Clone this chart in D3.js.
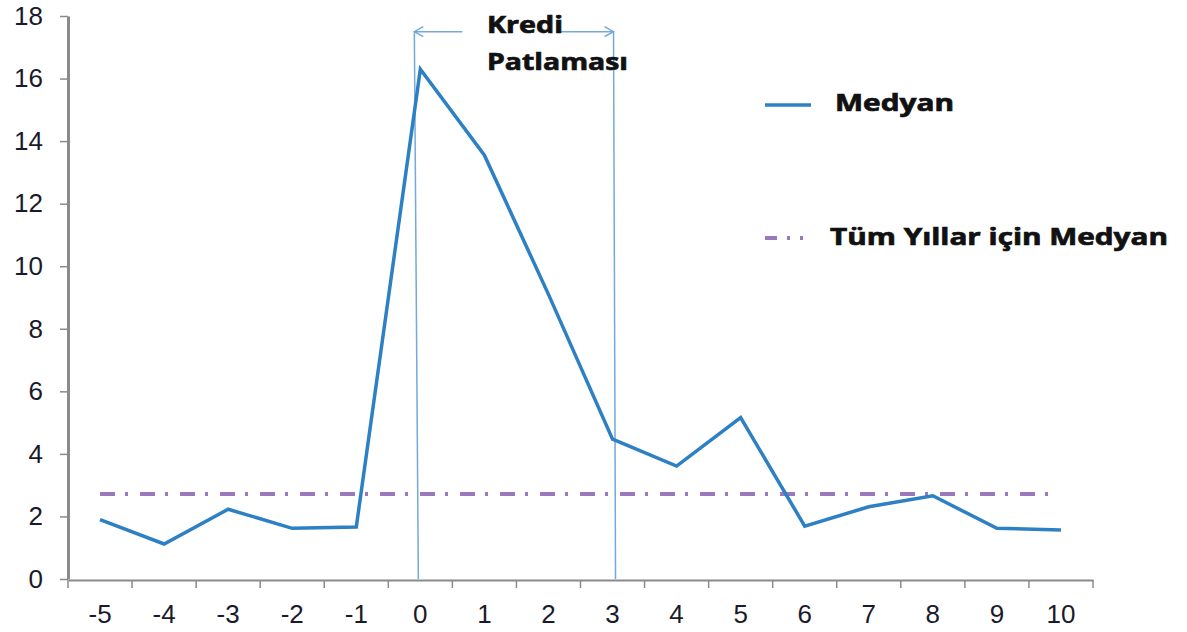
<!DOCTYPE html>
<html><head><meta charset="utf-8">
<script src="https://cdn.jsdelivr.net/npm/d3@7"></script>
<style>body{margin:0;background:#fff}svg{display:block}</style>
</head><body>
<svg id="c" width="1187" height="632"></svg>
<script>
const categories = [-5,-4,-3,-2,-1,0,1,2,3,4,5,6,7,8,9,10];
const medyan = [1.9,1.12,2.23,1.62,1.66,16.3,13.55,9.1,4.47,3.61,5.16,1.69,2.31,2.66,1.62,1.57];
const tumYillarMedyan = 2.72;
const yTicks = [0,2,4,6,8,10,12,14,16,18];
const boomStart = 0, boomEnd = 3;
const labels = {series:"Medyan", ref:"Tüm Yıllar için Medyan", boom:["Kredi","Patlaması"]};

const svg = d3.select("#c");
const x = d3.scaleBand().domain(categories).range([68,1093]).padding(0);
const cx = c => x(c) + x.bandwidth()/2;
const y = d3.scaleLinear().domain([0,18]).range([579,16]);

// axes
const yAx = svg.append("g").attr("transform","translate(68,0)")
  .call(d3.axisLeft(y).tickValues(yTicks).tickSize(8).tickPadding(17).tickSizeOuter(0));
yAx.select(".domain").attr("stroke","#8a8a8a").attr("stroke-width",3);
yAx.selectAll(".tick line").attr("stroke","#8a8a8a").attr("stroke-width",1.5);
yAx.selectAll(".tick text").attr("font-family","Liberation Sans, Arial, sans-serif")
  .attr("font-size",26).attr("fill","#1a1a2a");

const xAx = svg.append("g").attr("transform","translate(0,580)")
  .call(d3.axisBottom(x).tickSize(0).tickPadding(25).tickSizeOuter(0));
xAx.select(".domain").attr("stroke","#8a8a8a").attr("stroke-width",2);
xAx.selectAll(".tick text").attr("font-family","Liberation Sans, Arial, sans-serif")
  .attr("font-size",26).attr("fill","#1a1a2a");
// boundary ticks
const bounds = categories.map(c => x(c)).concat([x.range()[1]]);
svg.append("g").selectAll("line").data(bounds).join("line")
  .attr("x1",d=>d).attr("x2",d=>d).attr("y1",580).attr("y2",588)
  .attr("stroke","#8a8a8a").attr("stroke-width",1.5);

// reference median line
svg.append("line")
  .attr("x1",cx(categories[0])).attr("x2",cx(categories[categories.length-1])-4)
  .attr("y1",y(tumYillarMedyan)).attr("y2",y(tumYillarMedyan))
  .attr("stroke","#9a78bd").attr("stroke-width",4)
  .attr("stroke-dasharray","15 10 3 12");

// boom vertical lines
const vColor = "#74a9da";
svg.append("line").attr("x1",cx(boomStart)-6).attr("x2",cx(boomStart)-2)
  .attr("y1",y(17.5)).attr("y2",y(0)).attr("stroke",vColor).attr("stroke-width",1.5);
svg.append("line").attr("x1",cx(boomEnd)+1).attr("x2",cx(boomEnd)+3)
  .attr("y1",y(17.5)).attr("y2",y(0)).attr("stroke",vColor).attr("stroke-width",1.5);

// arrows
const ay = y(17.5);
const arr = svg.append("g").attr("stroke",vColor).attr("stroke-width",1.5).attr("fill","none");
const lx = cx(boomStart)-6, rx = cx(boomEnd)+1;
arr.append("line").attr("x1",lx+48).attr("x2",lx).attr("y1",ay).attr("y2",ay);
arr.append("path").attr("d",`M${lx+9},${ay-5} L${lx},${ay} L${lx+9},${ay+5}`);
arr.append("line").attr("x1",rx-55).attr("x2",rx).attr("y1",ay).attr("y2",ay);
arr.append("path").attr("d",`M${rx-9},${ay-5} L${rx},${ay} L${rx-9},${ay+5}`);

// series line
svg.append("path").datum(categories.map((c,i)=>[c,medyan[i]]))
  .attr("d", d3.line().x(d=>cx(d[0])).y(d=>y(d[1])))
  .attr("fill","none").attr("stroke","#2c80c3").attr("stroke-width",3.5)
  .attr("stroke-linejoin","miter");

// annotation text
const bf = "Open Sans, Lato, sans-serif";
function boldText(tx, ty, str, len) {
  svg.append("text").attr("x",tx).attr("y",ty).text(str)
    .attr("font-family",bf).attr("font-weight","bold").attr("font-size",23)
    .attr("fill","#111").attr("stroke","#111").attr("stroke-width",0.7)
    .attr("textLength",len).attr("lengthAdjust","spacingAndGlyphs");
}
boldText(487, 33, labels.boom[0], 76);
boldText(487, 70, labels.boom[1], 141);

// legend
svg.append("line").attr("x1",765).attr("x2",811).attr("y1",105).attr("y2",105)
  .attr("stroke","#2c80c3").attr("stroke-width",3.5);
boldText(835, 111, labels.series, 119);
svg.append("line").attr("x1",765).attr("x2",811).attr("y1",238).attr("y2",238)
  .attr("stroke","#9a78bd").attr("stroke-width",4).attr("stroke-dasharray","12 10 3 10 3 10");
boldText(830, 245, labels.ref, 338);
</script>
</body></html>
